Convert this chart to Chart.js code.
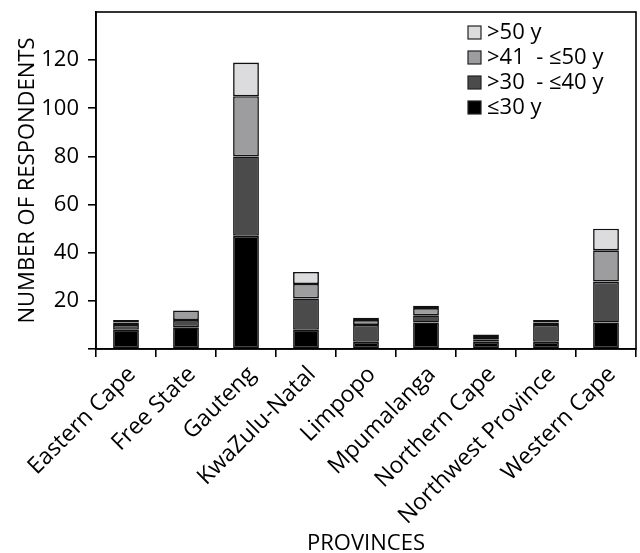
<!DOCTYPE html>
<html lang="en">
<head>
    <meta charset="UTF-8">
    <title>Respondents by province</title>
    <script src="https://cdn.jsdelivr.net/npm/chart.js"></script>
    <style>
        html, body { margin: 0; padding: 0; background: #fff; }
        #box { width: 640px; height: 553px; }
    </style>
</head>
<body>
    <div id="box">
        <canvas id="myChart" width="640" height="553"></canvas>
    </div>

<script>
    // data
    const provincias = ["Eastern Cape", "Free State", "Gauteng", "KwaZulu-Natal", "Limpopo",
                        "Mpumalanga", "Northern Cape", "Northwest Province", "Western Cape"];
    const ate30 = [8, 9, 47, 8, 3, 11, 3, 3, 11];
    const de30a40 = [2, 3, 33, 13, 7, 3, 1, 7, 17];
    const de41a50 = [1, 4, 25, 6, 2, 3, 1, 1, 13];
    const acima50 = [1, 0, 14, 5, 1, 1, 1, 1, 9];
    const yTicks = [20, 40, 60, 80, 100, 120];

    const fonte = "'Open Sans', 'Noto Sans', sans-serif";

    function serie(label, data, cor) {
        return {
            label: label,
            data: data,
            backgroundColor: cor,
            borderColor: '#111',
            borderWidth: 1.6,
            borderSkipped: false,
            categoryPercentage: 1,
            barPercentage: 0.43
        };
    }

    const dados = {
        labels: provincias,
        datasets: [
            serie('≤30 y', ate30, '#000000'),
            serie('>30  - ≤40 y', de30a40, '#4b4b4b'),
            serie('>41  - ≤50 y', de41a50, '#9d9da0'),
            serie('>50 y', acima50, '#dcdcde')
        ]
    };

    // box around the plot + legend drawn inside the top right corner
    const moldura = {
        id: 'moldura',
        afterDraw(chart) {
            const ctx = chart.ctx;
            const a = chart.chartArea;
            ctx.save();
            ctx.strokeStyle = '#000';
            ctx.lineWidth = 1.6;
            ctx.strokeRect(a.left, a.top, a.right - a.left, a.bottom - a.top);

            const itens = chart.data.datasets.slice().reverse();
            ctx.font = '22px ' + fonte;
            ctx.textBaseline = 'middle';
            itens.forEach(function (ds, i) {
                const x = a.right - 168;
                const y = a.top + 20 + i * 25;
                ctx.fillStyle = ds.backgroundColor;
                ctx.fillRect(x, y - 6, 13, 13);
                ctx.strokeStyle = '#222';
                ctx.lineWidth = 1.2;
                ctx.strokeRect(x, y - 6, 13, 13);
                ctx.fillStyle = '#000';
                ctx.fillText(ds.label, x + 19, y + 1);
            });
            ctx.restore();
        }
    };

    const config = {
        type: 'bar',
        data: dados,
        options: {
            responsive: false,
            animation: false,
            layout: { padding: { top: 12, right: 4, left: 15, bottom: 0 } },
            plugins: {
                legend: { display: false },
                tooltip: { enabled: false }
            },
            scales: {
                x: {
                    stacked: true,
                    afterFit: function (scale) { scale.height = 553 - 349; },
                    grid: {
                        offset: true,
                        drawOnChartArea: false,
                        tickLength: 8,
                        color: '#000',
                        lineWidth: 1.6
                    },
                    border: { color: '#000', width: 1.6 },
                    ticks: {
                        color: '#000',
                        minRotation: 45,
                        maxRotation: 45,
                        padding: 4,
                        labelOffset: 6,
                        font: { family: fonte, size: 23 }
                    },
                    title: {
                        display: true,
                        text: 'PROVINCES',
                        color: '#000',
                        padding: { top: 0, bottom: 0 },
                        font: { family: fonte, size: 22, lineHeight: 0.85 }
                    }
                },
                y: {
                    stacked: true,
                    min: 0,
                    max: 140,
                    afterFit: function (scale) {
                        scale.width = 96 - 15;
                        scale.paddingTop = 0;
                        scale.paddingBottom = 0;
                    },
                    afterBuildTicks: function (scale) {
                        scale.ticks = [0].concat(yTicks).concat([140]).map(function (v) { return { value: v }; });
                    },
                    grid: {
                        drawOnChartArea: false,
                        tickLength: 8,
                        lineWidth: 1.6,
                        color: '#000',
                        tickColor: function (c) { return c.tick && c.tick.value === 140 ? 'rgba(0,0,0,0)' : '#000'; }
                    },
                    border: { color: '#000', width: 1.6 },
                    ticks: {
                        color: '#000',
                        padding: 9,
                        font: { family: fonte, size: 22 },
                        callback: function (v) { return yTicks.indexOf(v) >= 0 ? v : ''; }
                    },
                    title: {
                        display: true,
                        text: 'NUMBER OF RESPONDENTS',
                        color: '#000',
                        padding: { top: 0, bottom: 0 },
                        font: { family: fonte, size: 22 }
                    }
                }
            }
        },
        plugins: [moldura]
    };

    let myChart = new Chart(document.getElementById('myChart'), config);
</script>
</body>
</html>
